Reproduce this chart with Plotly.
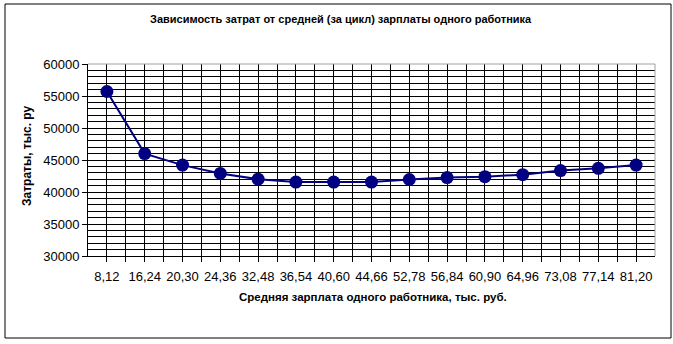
import plotly.graph_objects as go

categories = ["8,12", "16,24", "20,30", "24,36", "32,48", "36,54", "40,60", "44,66",
              "52,78", "56,84", "60,90", "64,96", "73,08", "77,14", "81,20"]
costs = [55700, 46000, 44200, 42900, 42000, 41550, 41550, 41550,
         41950, 42250, 42400, 42700, 43350, 43700, 44200]

title_text = "Зависимость затрат от средней (за цикл) зарплаты одного работника"
x_title = "Средняя зарплата одного работника, тыс. руб."
y_title = "Затраты, тыс. ру"

W, H = 673, 344
L, R, T, B = 88, 18, 64, 88
pw, ph = W - L - R, H - T - B

def px_x(p):
    return (p - L) / pw

def px_y(p):
    return 1 - (p - T) / ph

n = len(categories)
idx = list(range(n))
font = "Liberation Sans, Arial, sans-serif"

fig = go.Figure()
fig.add_trace(go.Scatter(
    x=idx, y=costs, mode="lines+markers",
    line=dict(color="#000080", width=2),
    marker=dict(color="#000080", size=13, symbol="circle"),
    showlegend=False, hoverinfo="skip",
))

fig.update_layout(
    width=W, height=H,
    margin=dict(l=L, r=R, t=T, b=B),
    paper_bgcolor="white", plot_bgcolor="white",
    font=dict(family=font, size=12, color="black"),
    xaxis=dict(
        range=[-0.5, n - 0.5],
        tickmode="array", tickvals=idx, ticktext=categories,
        showgrid=True, gridcolor="black", gridwidth=1,
        ticks="outside", ticklen=5, tickcolor="black",
        showline=True, linecolor="black", linewidth=1,
        zeroline=False, ticklabelstandoff=3,
        tickfont=dict(family=font, size=13),
        minor=dict(tickmode="array", tickvals=[i + 0.5 for i in idx[:-1]],
                   showgrid=True, gridcolor="black", gridwidth=1,
                   ticks="outside", ticklen=5, tickcolor="black"),
    ),
    yaxis=dict(
        range=[30000, 60000], dtick=5000, tick0=30000,
        showgrid=True, gridcolor="black", gridwidth=1,
        ticks="outside", ticklen=5, tickcolor="black",
        showline=True, linecolor="black", linewidth=1,
        zeroline=False,
        tickformat="d",
        tickfont=dict(family=font, size=13),
        minor=dict(dtick=1000, showgrid=True, gridcolor="black", gridwidth=1),
    ),
    annotations=[
        dict(text="<b>" + title_text + "</b>", x=px_x(341), y=px_y(19),
             xref="paper", yref="paper", showarrow=False,
             xanchor="center", yanchor="middle",
             font=dict(family=font, size=11)),
        dict(text="<b>" + x_title + "</b>", x=px_x(373), y=px_y(297),
             xref="paper", yref="paper", showarrow=False,
             xanchor="center", yanchor="middle",
             font=dict(family=font, size=11.5)),
        dict(text="<b>" + y_title + "</b>", x=px_x(27), y=px_y(156),
             xref="paper", yref="paper", showarrow=False, textangle=-90,
             xanchor="center", yanchor="middle",
             font=dict(family=font, size=12)),
    ],
    shapes=[
        dict(type="rect", xref="paper", yref="paper",
             x0=px_x(5), x1=px_x(671), y0=px_y(338), y1=px_y(4),
             line=dict(color="black", width=1), layer="below"),
        dict(type="line", xref="paper", yref="paper",
             x0=0, x1=1, y0=1, y1=1,
             line=dict(color="#a0a0a0", width=1), layer="above"),
        dict(type="line", xref="paper", yref="paper",
             x0=1, x1=1, y0=0, y1=1,
             line=dict(color="#a0a0a0", width=1), layer="above"),
    ],
)

fig.write_html("out.html")
